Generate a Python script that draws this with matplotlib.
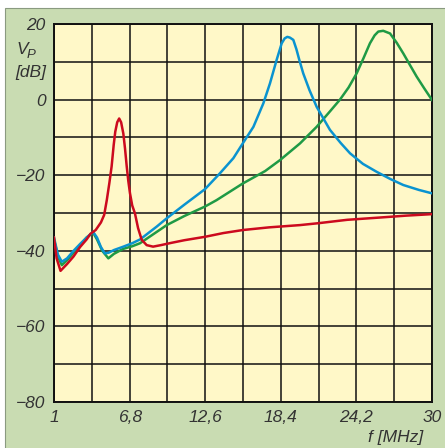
import matplotlib.pyplot as plt
import matplotlib.patches as patches
import numpy as np

# frequency axis in MHz, level in dB
red_f = [1.0, 1.2, 1.5, 2.0, 2.5, 3.0, 3.5, 3.8, 4.2, 4.6, 4.85, 5.05, 5.25, 5.42,
         5.58, 5.7, 5.85, 6.0, 6.15, 6.32, 6.45, 6.58, 6.7, 6.83, 7.0, 7.21, 7.45,
         7.73, 8.11, 8.6, 9.2, 10.0, 11.0, 12.58, 14.0, 15.5, 17.5, 19.87, 21.28,
         23.5, 26.0, 28.0, 30.0]
red_db = [-36.5, -42, -45.3, -43.5, -41.5, -39, -37, -35.5, -34.5, -32.5, -30.5, -26.6,
          -22, -17.7, -12, -8.5, -6, -5, -6, -9, -13, -17.7, -21.5, -24.8, -28, -30.1,
          -34, -37.1, -38.5, -38.9, -38.5, -37.9, -37.2, -36.3, -35.3, -34.5, -33.8,
          -33.2, -32.7, -31.8, -31.2, -30.7, -30.3]

blue_f = [1.0, 1.3, 1.6, 2.0, 2.5, 3.0, 3.5, 4.0, 4.3, 4.6, 4.9, 5.2, 5.6, 6.32, 7.0,
          7.6, 8.88, 9.65, 11.0, 12.58, 13.73, 14.76, 15.48, 16.3, 17.06, 17.57,
          18.08, 18.47, 18.7, 18.9, 19.1, 19.36, 19.6, 19.82, 20.12, 20.6,
          21.15, 22.17, 23.0, 23.71, 24.7, 25.75, 26.8, 27.8, 29.0, 30.0]
blue_db = [-36.5, -41, -42.9, -42, -40, -38.2, -36.5, -35, -36.5, -39, -40.7, -40.5,
           -39.8, -38.9, -38, -37, -33.6, -31.4, -27.8, -23.7, -19.5, -15.5, -11.6,
           -7.2, -1.0, 4.3, 10.5, 14.9, 16.2, 16.6, 16.4, 15.8, 13.3, 10.5, 6.95, 2.5,
           -1.9, -8.0, -11.5, -14.2, -17.0, -19.1, -21.0, -22.6, -23.9, -24.8]

green_f = [1.0, 1.3, 1.6, 2.0, 2.5, 3.0, 3.5, 4.0, 4.3, 4.7, 5.17, 5.6, 6.3, 7.0, 7.6,
           8.88, 9.65, 11.0, 12.58, 13.47, 15.48, 17.2, 18.34, 19.87, 21.15, 22.2,
           22.94, 23.6, 24.22, 24.75, 25.24, 25.6, 25.88, 26.26, 26.78, 27.3, 27.8,
           28.3, 28.82, 29.4, 30.0]
green_db = [-37, -41.5, -43.8, -42.5, -40.5, -38.5, -36.5, -35.2, -37, -40, -42, -40.8,
            -39.5, -38.8, -38, -35, -33.2, -30.8, -28.3, -26.6, -22.2, -18.9,
            -16, -11.6, -7.2, -3, 0, 3.2, 6.95, 11, 14.9, 17, 18.0, 18.2, 17.5, 15,
            12.2, 9.2, 6.1, 3.0, -0.1]

x_labels = ['1', '', '6,8', '', '12,6', '', '18,4', '', '24,2', '', '30']
y_labels = ['\u221280', '', '\u221260', '', '\u221240', '', '\u221220', '', '0', '', '20']

font = ['Liberation Sans Narrow', 'Liberation Sans', 'DejaVu Sans']
text_col = '#333333'

fig = plt.figure(figsize=(4.45, 4.48), dpi=100, facecolor='white')

# green panel behind the chart
panel = patches.Rectangle((5 / 445, -0.01), 1.0, 1 - 8 / 448 + 0.01,
                          transform=fig.transFigure, facecolor='#c9dcb2',
                          edgecolor='#8a9a80', linewidth=0.8, zorder=-1)
fig.patches.append(panel)

ax = fig.add_axes([54 / 445, 46 / 448, 378 / 445, 378 / 448])
ax.set_facecolor('#fff8c8')
ax.set_zorder(1)

ax.plot(green_f, green_db, color='#1f9a45', linewidth=1.8, zorder=3)
ax.plot(blue_f, blue_db, color='#0a93d0', linewidth=1.8, zorder=4)
ax.plot(red_f, red_db, color='#cc0a1e', linewidth=1.8, zorder=5)

ax.set_xlim(1, 30)
ax.set_ylim(-80, 20)
ax.set_xticks(1 + 2.9 * np.arange(11))
ax.set_xticklabels(x_labels)
ax.set_yticks(np.arange(-80, 21, 10))
ax.set_yticklabels(y_labels)

for lab in ax.get_xticklabels() + ax.get_yticklabels():
    lab.set_family(font)
    lab.set_style('italic')
    lab.set_fontsize(12.5)
    lab.set_color(text_col)

ax.tick_params(length=0, pad=6)
ax.grid(True, color='#111111', linewidth=1.1)
ax.set_axisbelow(True)
for s in ax.spines.values():
    s.set_color('#111111')
    s.set_linewidth(1.4)

# axis titles
fig.text(28 / 445, 1 - 49 / 448, 'V', family=font, style='italic', fontsize=12.5,
         color=text_col, ha='right', va='center')
fig.text(27 / 445, 1 - 55 / 448, 'P', family=font, style='italic', fontsize=9.5,
         color=text_col, ha='left', va='center')
fig.text(46 / 445, 1 - 73 / 448, '[dB]', family=font, style='italic', fontsize=12.5,
         color=text_col, ha='right', va='center')
fig.text(423 / 445, 1 - 437 / 448, 'f [MHz]', family=font, style='italic', fontsize=12.5,
         color=text_col, ha='right', va='center')

plt.savefig('out.png', dpi=100, facecolor=fig.get_facecolor())
